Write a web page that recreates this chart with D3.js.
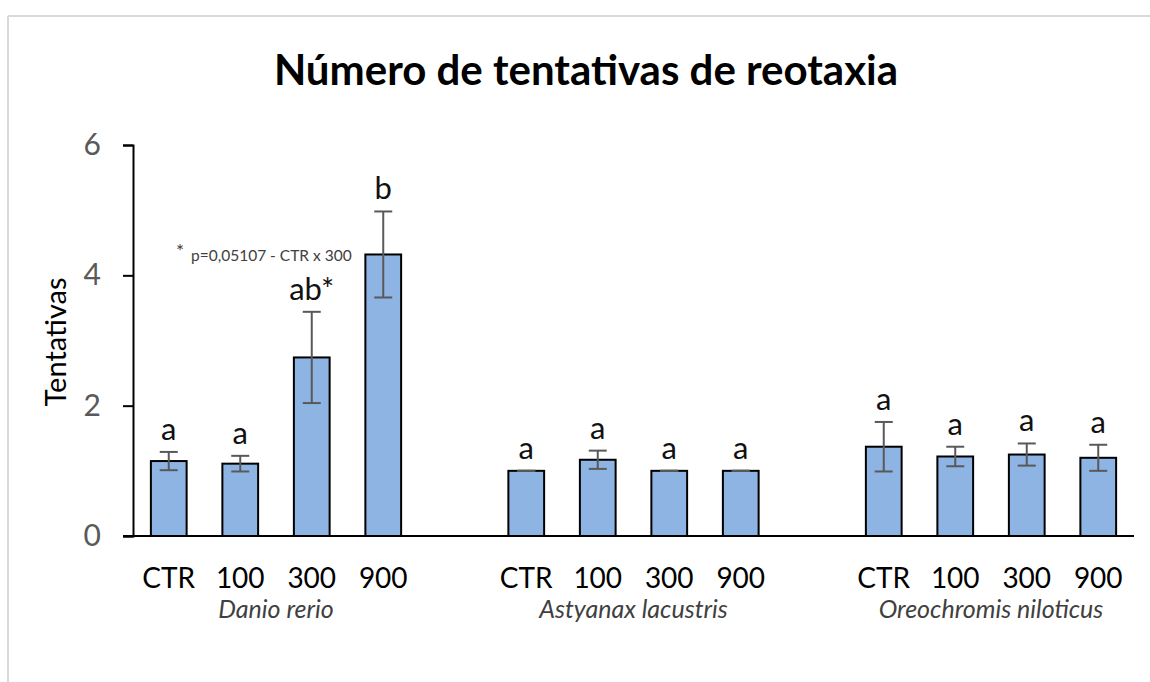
<!DOCTYPE html>
<html>
<head>
<meta charset="utf-8">
<script src="https://cdn.jsdelivr.net/npm/d3@7"></script>
<style>
  body { margin: 0; background: #fff; }
  svg text { font-family: Lato, "Open Sans", sans-serif; }
</style>
</head>
<body>
<svg id="chart" width="1150" height="682"></svg>
<script>
// data
const species = ["Danio rerio", "Astyanax lacustris", "Oreochromis niloticus"];
const doses = ["CTR", "100", "300", "900"];
const means = [
  [1.15, 1.11, 2.74, 4.32],
  [1.00, 1.17, 1.00, 1.00],
  [1.37, 1.22, 1.25, 1.20]
];
const errors = [
  [0.14, 0.12, 0.70, 0.66],
  [0.00, 0.14, 0.00, 0.00],
  [0.38, 0.15, 0.17, 0.20]
];
const letters = [
  ["a", "a", "ab*", "b"],
  ["a", "a", "a", "a"],
  ["a", "a", "a", "a"]
];
const yTicks = [0, 2, 4, 6];
const note = "p=0,05107 - CTR x 300";

const svg = d3.select("#chart");

// frame
svg.append("line").attr("x1", 8).attr("x2", 1150).attr("y1", 16).attr("y2", 16)
  .attr("stroke", "#d9d9d9").attr("stroke-width", 2);
svg.append("line").attr("x1", 8).attr("x2", 8).attr("y1", 16).attr("y2", 682)
  .attr("stroke", "#d9d9d9").attr("stroke-width", 2);

// slots: 4 bars, gap, 4 bars, gap, 4 bars
const data = [];
const slots = [];
species.forEach((sp, i) => {
  doses.forEach((d, j) => {
    const key = sp + "|" + d;
    slots.push(key);
    data.push({ sp: sp, dose: d, key: key, v: means[i][j], e: errors[i][j], lab: letters[i][j] });
  });
  if (i < species.length - 1) slots.push("gap" + i);
});

const x = d3.scaleBand().domain(slots).range([133, 1134]).paddingInner(0.5).paddingOuter(0.25);
const y = d3.scaleLinear().domain([0, 6]).range([536, 145]);

// title
svg.append("text").attr("x", 586).attr("y", 85).attr("text-anchor", "middle")
  .attr("font-size", 42).attr("font-weight", "bold").attr("fill", "#000")
  .text("Número de tentativas de reotaxia");

// y axis
const yAxis = svg.append("g").attr("transform", "translate(133,0)")
  .call(d3.axisLeft(y).tickValues(yTicks).tickSize(10).tickPadding(22).tickFormat(d3.format("d")));
yAxis.select(".domain").attr("stroke", "#000").attr("stroke-width", 2);
yAxis.selectAll(".tick line").attr("stroke", "#000").attr("stroke-width", 2);
yAxis.selectAll(".tick text").attr("font-size", 30).attr("fill", "#595959")
  .style("font-family", "Lato, sans-serif");

svg.append("text").attr("transform", "translate(66,342) rotate(-90)")
  .attr("text-anchor", "middle").attr("font-size", 29).attr("fill", "#000")
  .text("Tentativas");

// bars
svg.selectAll(".bar").data(data).enter().append("rect")
  .attr("class", "bar")
  .attr("x", d => x(d.key))
  .attr("y", d => y(d.v))
  .attr("width", x.bandwidth())
  .attr("height", d => y(0) - y(d.v))
  .attr("fill", "#8eb4e3").attr("stroke", "#000").attr("stroke-width", 2);

// x axis line
svg.append("line").attr("x1", 123).attr("x2", 1134).attr("y1", y(0)).attr("y2", y(0))
  .attr("stroke", "#000").attr("stroke-width", 2);

// error bars
const cap = 9;
const eb = svg.selectAll(".err").data(data).enter().append("g").attr("class", "err")
  .attr("stroke", "#595959").attr("stroke-width", 2);
eb.append("line")
  .attr("x1", d => x(d.key) + x.bandwidth() / 2).attr("x2", d => x(d.key) + x.bandwidth() / 2)
  .attr("y1", d => y(d.v - d.e)).attr("y2", d => y(d.v + d.e));
eb.append("line")
  .attr("x1", d => x(d.key) + x.bandwidth() / 2 - cap).attr("x2", d => x(d.key) + x.bandwidth() / 2 + cap)
  .attr("y1", d => y(d.v + d.e)).attr("y2", d => y(d.v + d.e));
eb.append("line")
  .attr("x1", d => x(d.key) + x.bandwidth() / 2 - cap).attr("x2", d => x(d.key) + x.bandwidth() / 2 + cap)
  .attr("y1", d => y(d.v - d.e)).attr("y2", d => y(d.v - d.e));

// significance letters
svg.selectAll(".lab").data(data).enter().append("text")
  .attr("class", "lab")
  .attr("x", d => x(d.key) + x.bandwidth() / 2)
  .attr("y", d => y(d.v + d.e) - 12)
  .attr("text-anchor", "middle").attr("font-size", 31).attr("fill", "#111")
  .text(d => d.lab);

// dose labels
svg.selectAll(".dose").data(data).enter().append("text")
  .attr("class", "dose")
  .attr("x", d => x(d.key) + x.bandwidth() / 2)
  .attr("y", 588)
  .attr("text-anchor", "middle").attr("font-size", 28).attr("fill", "#000")
  .text(d => d.dose);

// species labels
species.forEach(sp => {
  const a = x(sp + "|" + doses[0]);
  const b = x(sp + "|" + doses[doses.length - 1]) + x.bandwidth();
  svg.append("text").attr("x", (a + b) / 2).attr("y", 618)
    .attr("text-anchor", "middle").attr("font-size", 25).attr("font-style", "italic")
    .attr("fill", "#404040").text(sp);
});

// p-value note
svg.append("text").attr("x", 176).attr("y", 258).attr("font-size", 19).attr("fill", "#404040").text("*");
svg.append("text").attr("x", 191).attr("y", 261).attr("font-size", 15.5).attr("fill", "#404040").text(note);
</script>
</body>
</html>
